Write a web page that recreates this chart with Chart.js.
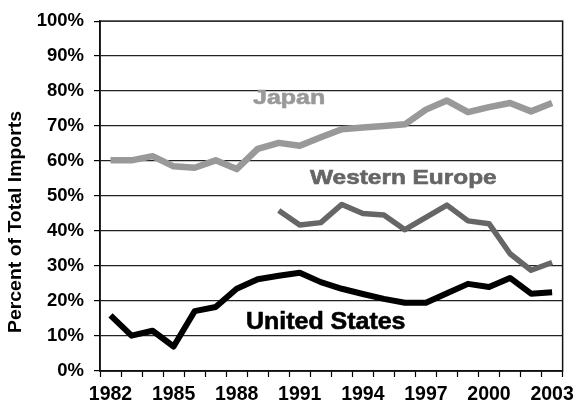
<!DOCTYPE html>
<html>
<head>
<meta charset="utf-8">
<script src="https://cdn.jsdelivr.net/npm/chart.js@4"></script>
<style>
html,body{margin:0;padding:0;background:#fff;}
#wrap{width:580px;height:410px;position:relative;}
</style>
</head>
<body>
<div id="wrap"><canvas id="c" width="580" height="410"></canvas></div>
<script>
const years = ["1982","1983","1984","1985","1986","1987","1988","1989","1990","1991","1992","1993","1994","1995","1996","1997","1998","1999","2000","2001","2002","2003"];
const japan = [60.2, 60.2, 61.4, 58.5, 58.1, 60.2, 57.7, 63.5, 65.2, 64.4, 66.8, 69.1, 69.6, 70.0, 70.5, 74.7, 77.3, 74.0, 75.4, 76.6, 74.2, 76.6];
const westernEurope = [null, null, null, null, null, null, null, null, 45.9, 41.7, 42.4, 47.6, 45.0, 44.6, 40.4, 43.9, 47.4, 42.9, 42.1, 33.5, 28.8, 31.0];
const unitedStates = [15.9, 10.1, 11.5, 7.0, 17.1, 18.3, 23.5, 26.2, 27.2, 28.1, 25.4, 23.5, 22.0, 20.6, 19.5, 19.5, 22.2, 24.9, 24.0, 26.6, 22.1, 22.5];
const yTicks = [0,10,20,30,40,50,60,70,80,90,100];
const seriesNames = ["Japan", "Western Europe", "United States"];
const yTitle = "Percent of Total Imports";

const FONT = "'Liberation Sans', Arial, Helvetica, sans-serif";

const decor = {
  id: 'decor',
  afterDatasetsDraw(chart) {
    const ctx = chart.ctx;
    const a = chart.chartArea;
    ctx.save();
    ctx.strokeStyle = '#111';
    ctx.lineWidth = 1.5;
    ctx.strokeRect(a.left, a.top, a.right - a.left, a.bottom - a.top);
    const lab = (t, x, y, size, sx, color) => {
      ctx.save();
      ctx.font = 'bold ' + size + 'px ' + FONT;
      ctx.fillStyle = color;
      ctx.strokeStyle = color;
      ctx.lineWidth = 0.6;
      ctx.textAlign = 'left';
      ctx.textBaseline = 'alphabetic';
      ctx.translate(x, y);
      ctx.scale(sx, 1);
      ctx.fillText(t, 0, 0);
      ctx.strokeText(t, 0, 0);
      ctx.restore();
    };
    lab(seriesNames[0], 253, 104, 20.5, 1.22, '#999999');
    lab(seriesNames[1], 310, 184, 20.5, 1.19, '#666666');
    lab(seriesNames[2], 246, 328.5, 24, 1.04, '#000000');
    ctx.save();
    ctx.font = 'bold 18px ' + FONT;
    ctx.fillStyle = '#000';
    ctx.textAlign = 'center';
    ctx.textBaseline = 'middle';
    ctx.translate(16, 222);
    ctx.rotate(-Math.PI / 2);
    ctx.scale(1.08, 1);
    ctx.fillText(yTitle, 0, 0);
    ctx.restore();
    ctx.restore();
  }
};

new Chart(document.getElementById('c'), {
  type: 'line',
  data: {
    labels: years,
    datasets: [
      { label: seriesNames[0], data: japan, borderColor: '#999999', borderWidth: 6.5, pointRadius: 0, tension: 0, fill: false, borderJoinStyle: 'round' },
      { label: seriesNames[1], data: westernEurope, borderColor: '#666666', borderWidth: 5.5, pointRadius: 0, tension: 0, fill: false, spanGaps: false, borderJoinStyle: 'round' },
      { label: seriesNames[2], data: unitedStates, borderColor: '#000000', borderWidth: 6, pointRadius: 0, tension: 0, fill: false, borderJoinStyle: 'round' }
    ]
  },
  options: {
    responsive: false,
    animation: false,
    devicePixelRatio: 1,
    layout: { padding: { top: 15, right: 9, left: 0, bottom: 0 } },
    plugins: { legend: { display: false }, tooltip: { enabled: false }, title: { display: false } },
    scales: {
      x: {
        type: 'category',
        offset: true,
        grid: { offset: true, drawOnChartArea: false, drawTicks: true, tickLength: 6, tickColor: '#000', tickWidth: 1.2 },
        border: { display: true, color: '#000', width: 1.5 },
        ticks: {
          autoSkip: false, maxRotation: 0, minRotation: 0, padding: 6,
          color: '#000', font: { family: FONT, size: 19.5, weight: 'bold' },
          callback: function(v, i) { return i % 3 === 0 ? years[i] : ''; }
        },
        afterFit(s) { s.height = 39; }
      },
      y: {
        min: 0, max: 100,
        afterBuildTicks(s) { s.ticks = yTicks.map(v => ({ value: v })); },
        grid: {
          drawTicks: true, tickLength: 6, tickColor: '#000', tickWidth: 1.2,
          color: ctx => (ctx.tick && (ctx.tick.value === 0 || ctx.tick.value === 100)) ? 'rgba(0,0,0,0)' : '#222',
          lineWidth: 1.2,
          borderDash: [7, 4],
          tickBorderDash: []
        },
        border: { display: true, color: '#000', width: 1.5 },
        ticks: {
          padding: 10, color: '#000', font: { family: FONT, size: 18.5, weight: 'bold' },
          callback: v => v + '%'
        },
        afterFit(s) { s.width = 100; }
      }
    }
  },
  plugins: [decor]
});
</script>
</body>
</html>
